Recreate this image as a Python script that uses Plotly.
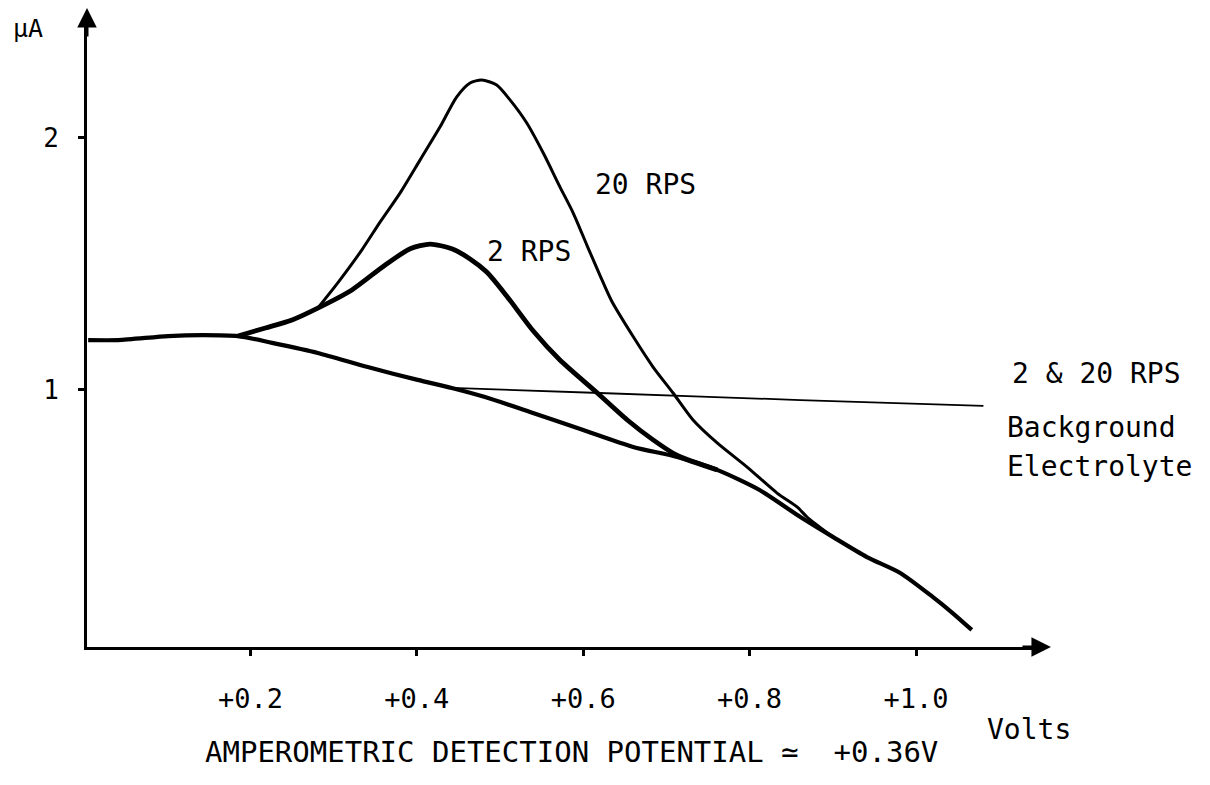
import plotly.graph_objects as go

# Rotating-disc amperometric response vs. applied potential
# Potential in volts, current in microamps

# lower trace (common start, then falling tail)
lower_v = [0.005, 0.041, 0.101, 0.142, 0.185, 0.226, 0.281, 0.341, 0.401, 0.442,
           0.482, 0.536, 0.600, 0.660, 0.713, 0.761, 0.812, 0.861, 0.900, 0.941,
           0.981, 1.020, 1.044, 1.067]
lower_i = [1.198, 1.198, 1.214, 1.218, 1.214, 1.187, 1.147, 1.091, 1.040, 1.008,
           0.972, 0.913, 0.841, 0.774, 0.734, 0.683, 0.603, 0.496, 0.417, 0.337,
           0.274, 0.179, 0.115, 0.048]

# 2 RPS peak
rps2_v = [0.185, 0.218, 0.250, 0.281, 0.322, 0.362, 0.392, 0.416, 0.442, 0.464,
          0.484, 0.508, 0.540, 0.572, 0.617, 0.653, 0.684, 0.713, 0.761]
rps2_i = [1.214, 1.246, 1.278, 1.325, 1.397, 1.496, 1.560, 1.579, 1.560, 1.520,
          1.468, 1.373, 1.234, 1.119, 0.988, 0.881, 0.802, 0.740, 0.683]

# 20 RPS peak
rps20_v = [0.281, 0.305, 0.334, 0.356, 0.380, 0.404, 0.428, 0.448, 0.464, 0.478,
           0.496, 0.512, 0.532, 0.552, 0.572, 0.588, 0.605, 0.620, 0.634, 0.660,
           0.684, 0.708, 0.732, 0.761, 0.797, 0.833, 0.857, 0.869, 0.900]
rps20_i = [1.325, 1.425, 1.556, 1.667, 1.782, 1.913, 2.044, 2.163, 2.218, 2.230,
           2.210, 2.151, 2.060, 1.940, 1.806, 1.702, 1.570, 1.456, 1.354, 1.212,
           1.091, 0.988, 0.881, 0.790, 0.694, 0.591, 0.536, 0.496, 0.417]

# background electrolyte (2 & 20 RPS)
bg_v = [0.442, 0.620, 0.861, 1.081]
bg_i = [1.008, 0.988, 0.960, 0.937]

x_ticks = [0.2, 0.4, 0.6, 0.8, 1.0]
x_tick_text = ["+0.2", "+0.4", "+0.6", "+0.8", "+1.0"]
y_ticks = [1, 2]
y_tick_text = ["1", "2"]

FONT = "DejaVu Sans Mono"
X_RANGE = [0.0036, 1.149]
Y_RANGE = [-0.0198, 2.460]

fig = go.Figure()

def curve(v, i, width, name):
    fig.add_trace(go.Scatter(
        x=v, y=i, mode="lines", name=name,
        line=dict(color="black", width=width, shape="spline", smoothing=0.7),
        hoverinfo="skip", showlegend=False,
    ))

curve(bg_v, bg_i, 1.8, "Background Electrolyte")
curve(lower_v, lower_i, 4.2, "lower")
curve(rps20_v, rps20_i, 3.0, "20 RPS")
curve(rps2_v, rps2_i, 4.8, "2 RPS")

annotations = []

# arrow heads closing the two axes (paper coordinates, outside the plot box)
annotations.append(dict(x=1.0115, y=0, xref="paper", yref="paper", ax=-30, ay=0,
                        text="", showarrow=True, arrowhead=2, arrowsize=1.3,
                        arrowwidth=3, arrowcolor="black"))
annotations.append(dict(x=0, y=1.0224, xref="paper", yref="paper", ax=0, ay=30,
                        text="", showarrow=True, arrowhead=2, arrowsize=1.3,
                        arrowwidth=3, arrowcolor="black"))

def label(text, x, y, size=28, anchor="left", ref="data"):
    ax_ref = "x" if ref == "data" else "paper"
    ay_ref = "y" if ref == "data" else "paper"
    annotations.append(dict(x=x, y=y, xref=ax_ref, yref=ay_ref, text=text,
                            showarrow=False, xanchor=anchor, yanchor="middle",
                            font=dict(family=FONT, size=size, color="black")))

label("20 RPS", 0.612, 1.817)
label("2 RPS", 0.482, 1.548)
label("2 &amp; 20 RPS", 1.113, 1.067)
label("Background", 1.107, 0.853)
label("Electrolyte", 1.107, 0.698)
# labels outside the axis box
label("\u03bcA", -0.0619, 0.9888, size=25, anchor="center", ref="paper")
label("Volts", 0.9423, -0.1312, ref="paper")
label("AMPEROMETRIC DETECTION POTENTIAL \u2243  +0.36V", 0.5089, -0.1680,
      size=29, anchor="center", ref="paper")

fig.update_layout(
    width=1210, height=785,
    margin=dict(l=87, r=170, t=22, b=138),
    paper_bgcolor="white", plot_bgcolor="white",
    annotations=annotations,
    xaxis=dict(range=X_RANGE, showgrid=False, zeroline=False,
               showline=True, linewidth=3, linecolor="black",
               tickmode="array", tickvals=x_ticks, ticktext=x_tick_text,
               ticks="outside", ticklen=6, tickwidth=3, tickcolor="black",
               ticklabelstandoff=20,
               tickfont=dict(family=FONT, size=27, color="black")),
    yaxis=dict(range=Y_RANGE, showgrid=False, zeroline=False,
               showline=True, linewidth=3, linecolor="black",
               tickmode="array", tickvals=y_ticks, ticktext=y_tick_text,
               ticks="outside", ticklen=6, tickwidth=3, tickcolor="black",
               ticklabelstandoff=14,
               tickfont=dict(family=FONT, size=26, color="black")),
)

fig.write_html("out.html")
